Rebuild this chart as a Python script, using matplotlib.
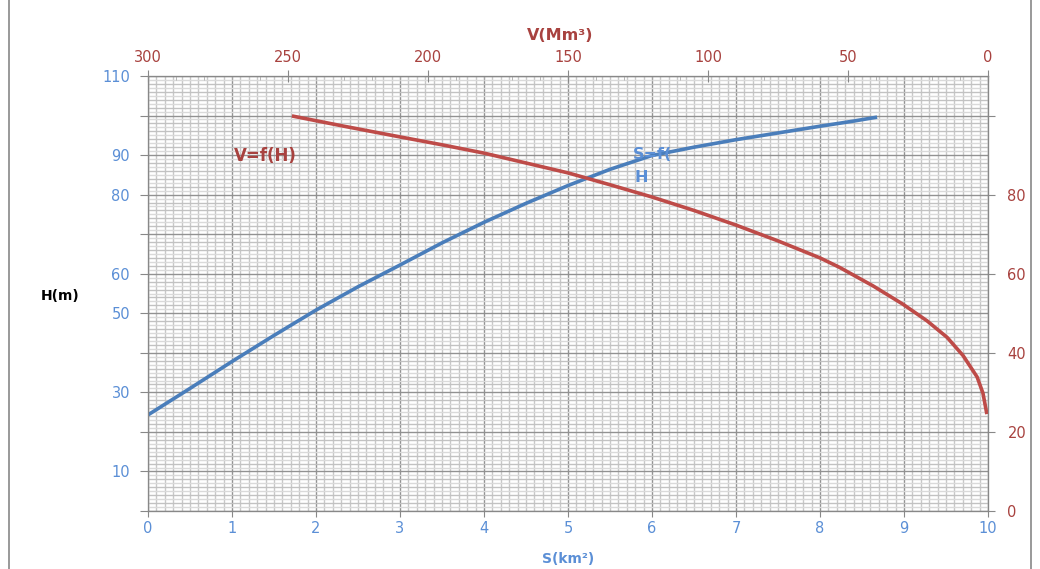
import matplotlib
matplotlib.use("Agg")
import matplotlib.pyplot as plt
import numpy as np
from matplotlib.patches import Rectangle

# S=f(H) : surface (km2) against height (m)
surface_km2 = [0.0, 0.5, 1.0, 1.5, 2.0, 2.5, 3.0, 3.5, 4.0, 4.5, 5.0, 5.5, 6.0, 6.5, 7.0, 7.5, 8.0, 8.4, 8.68]
surface_h = [24.3, 31.0, 37.8, 44.4, 50.8, 56.7, 62.2, 67.8, 73.0, 77.8, 82.3, 86.4, 89.9, 92.0, 93.9, 95.6, 97.3, 98.6, 99.6]

# V=f(H) : volume (Mm3) against height (m)
volume_mm3 = [248.6, 230, 210, 195, 180, 165, 150, 135, 120, 105, 90, 75, 60, 53, 41, 30.4,
              21.8, 14.6, 8.9, 3.9, 1.8, 0.4]
volume_h = [99.9, 97.3, 94.6, 92.6, 90.5, 88.0, 85.5, 82.5, 79.4, 76.0, 72.3, 68.3, 64.0, 61.6,
            56.9, 52.3, 48.1, 43.9, 39.3, 33.9, 29.8, 24.5]

left_ticks = [0, 10, 20, 30, 40, 50, 60, 70, 80, 90, 100, 110]
left_labels = ["", "10", "", "30", "", "50", "60", "", "80", "90", "", "110"]
right_ticks = [0, 20, 40, 60, 80, 100]
right_labels = ["0", "20", "40", "60", "80", ""]
bottom_ticks = list(range(0, 11))
top_ticks = [0, 50, 100, 150, 200, 250, 300]

BLUE = "#4A7EBB"
RED = "#BE4B48"
BLUE_TXT = "#5B8FD6"
RED_TXT = "#A8423F"
TICK_FS = 10.5

plt.rcParams["font.family"] = ["DejaVu Sans"]

fig = plt.figure(figsize=(10.4, 5.69), dpi=100)
ax = fig.add_axes([148 / 1040, 1 - 511 / 569, 840 / 1040, 435 / 569])

# outer chart border
fig.patches.append(Rectangle((9 / 1040, -0.01), 1022 / 1040, 1.02, transform=fig.transFigure,
                             fill=False, edgecolor="#888888", lw=1.2))

ax.set_xlim(0, 10)
ax.set_ylim(0, 110)

# dense millimetre-paper style grid
for xv in np.arange(0, 10.001, 0.1):
    major = abs(xv - round(xv)) < 1e-6
    ax.axvline(xv, color="#929292" if major else "#c8c8c8", lw=1.0, zorder=1)
for yv in np.arange(0, 110.001, 1):
    major = int(round(yv)) % 10 == 0
    ax.axhline(yv, color="#929292" if major else ("#c2c2c2" if int(round(yv)) % 2 == 0 else "#dadada"),
               lw=1.0, zorder=1)

ax.plot(surface_km2, surface_h, color=BLUE, lw=2.6, zorder=4, solid_capstyle="butt",
        solid_joinstyle="round")

ax.set_xticks(bottom_ticks)
ax.set_xticklabels([str(t) for t in bottom_ticks], color=BLUE_TXT, fontsize=TICK_FS)
ax.set_yticks(left_ticks)
ax.set_yticklabels(left_labels, color=BLUE_TXT, fontsize=TICK_FS)
ax.tick_params(axis="y", direction="out", length=6, color="#888888", pad=7)
ax.tick_params(axis="x", direction="out", length=4, color="#888888", pad=3)
for s in ax.spines.values():
    s.set_color("#888888")

# top axis : volume, reversed
ax_top = ax.twiny()
ax_top.set_xlim(300, 0)
ax_top.set_ylim(0, 110)
ax_top.plot(volume_mm3, volume_h, color=RED, lw=2.6, zorder=4, solid_capstyle="butt",
            solid_joinstyle="round")
ax_top.set_xticks(top_ticks)
ax_top.set_xticklabels([str(t) for t in top_ticks], color=RED_TXT, fontsize=TICK_FS)
ax_top.set_xticks(np.arange(0, 301, 10), minor=True)
ax_top.tick_params(axis="x", which="major", direction="inout", length=8, color="#888888", pad=4)
ax_top.tick_params(axis="x", which="minor", direction="in", length=3, color="#aaaaaa")
for s in ax_top.spines.values():
    s.set_color("#888888")

# right axis : second height scale
ax_r = ax.twinx()
ax_r.set_ylim(0, 110)
ax_r.set_yticks(right_ticks)
ax_r.set_yticklabels(right_labels, color=RED_TXT, fontsize=TICK_FS)
ax_r.tick_params(axis="y", direction="out", length=5, color="#888888", pad=9)
for s in ax_r.spines.values():
    s.set_color("#888888")

# labels
fig.text(560 / 1040, 1 - 35 / 569, "V(Mm³)", color=RED_TXT, fontsize=11.5, fontweight="bold",
         ha="center", va="center")
fig.text(60 / 1040, 1 - 296 / 569, "H(m)", color="black", fontsize=10, fontweight="bold",
         ha="center", va="center")
fig.text(568 / 1040, 1 - 559 / 569, "S(km²)", color=BLUE_TXT, fontsize=10, fontweight="bold",
         ha="center", va="center")
fig.text(265 / 1040, 1 - 156 / 569, "V=f(H)", color=RED_TXT, fontsize=12, fontweight="bold",
         ha="center", va="center", zorder=5)
fig.text(653 / 1040, 1 - 155 / 569, "S=f(", color=BLUE_TXT, fontsize=11.5, fontweight="bold",
         ha="center", va="center", zorder=5)
fig.text(641 / 1040, 1 - 177 / 569, "H", color=BLUE_TXT, fontsize=11.5, fontweight="bold",
         ha="center", va="center", zorder=5)

fig.savefig("out.png", dpi=100)
